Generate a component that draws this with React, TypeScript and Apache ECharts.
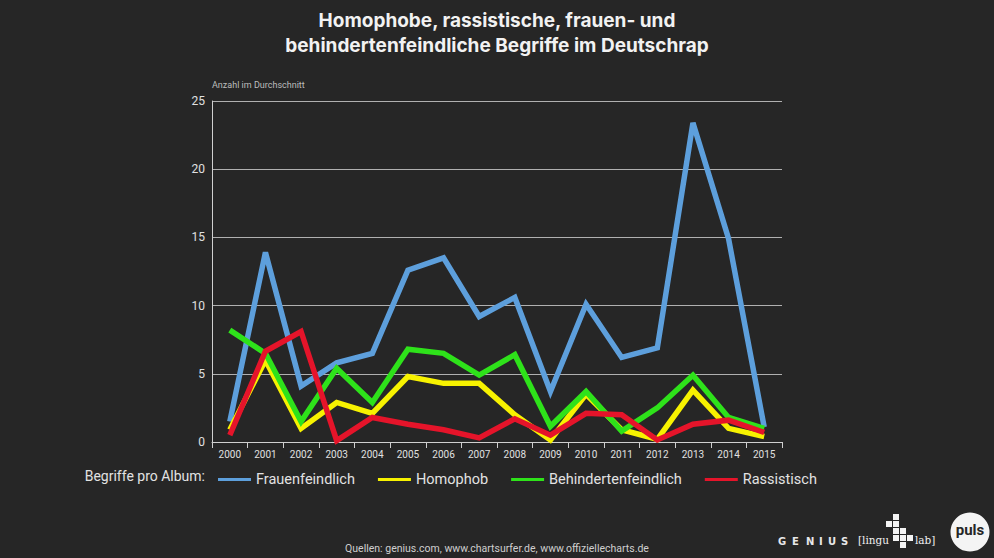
import React, { useEffect, useRef } from "react";
import * as echarts from "echarts";

const years = ["2000","2001","2002","2003","2004","2005","2006","2007","2008","2009","2010","2011","2012","2013","2014","2015"];
const frauenfeindlich = [1.5, 13.9, 4.1, 5.8, 6.5, 12.6, 13.5, 9.2, 10.6, 3.7, 10.1, 6.2, 6.9, 23.4, 14.9, 1.1];
const homophob = [0.9, 6.0, 1.0, 2.9, 2.1, 4.8, 4.3, 4.3, 2.0, 0.15, 3.5, 0.9, 0.2, 3.8, 1.0, 0.4];
const behindertenfeindlich = [8.2, 6.5, 1.5, 5.4, 2.9, 6.8, 6.5, 4.9, 6.4, 1.15, 3.7, 0.8, 2.5, 4.9, 1.8, 1.0];
const rassistisch = [0.5, 6.65, 8.1, 0.1, 1.8, 1.3, 0.9, 0.3, 1.7, 0.5, 2.1, 2.0, 0.15, 1.3, 1.6, 0.7];
const yTicks = [0, 5, 10, 15, 20, 25];

const seriesDefs = [
  { name: "Frauenfeindlich", data: frauenfeindlich, color: "#5d9fdc" },
  { name: "Homophob", data: homophob, color: "#f7f200" },
  { name: "Behindertenfeindlich", data: behindertenfeindlich, color: "#2ee21a" },
  { name: "Rassistisch", data: rassistisch, color: "#e5142a" },
];

const lingCells = [
  [1, 0], [0, 1], [1, 1], [1, 2], [2, 2], [1, 3], [2, 3], [3, 3], [2, 4],
];
const geniusLetters = ["G", "E", "N", "I", "U", "S"];
const geniusX = [778, 792, 806, 819, 828, 841];

export default function App() {
  const ref = useRef<HTMLDivElement>(null);
  useEffect(() => {
    const chart = echarts.init(ref.current!, null, { renderer: "svg" });
    const graphics: any[] = [
      {
        type: "text", left: 212, top: 80,
        style: { text: "Anzahl im Durchschnitt", fill: "#bdbdbd", font: "9px Roboto" },
      },
      {
        type: "text", x: 205, y: 476,
        style: { text: "Begriffe pro Album:", fill: "#e2e2e2", font: "14px Roboto", align: "right", verticalAlign: "middle" },
      },
      {
        type: "text", x: 497, y: 548,
        style: { text: "Quellen: genius.com, www.chartsurfer.de, www.offiziellecharts.de", fill: "#cfcfcf", font: "10.5px Roboto", align: "center", verticalAlign: "middle" },
      },
      ...geniusLetters.map((l, i) => ({
        type: "text", x: geniusX[i], y: 541,
        style: { text: l, fill: "#e8e8e8", font: "bold 10px 'DejaVu Sans'", verticalAlign: "middle" },
      })),
      {
        type: "text", x: 858, y: 540,
        style: { text: "[lingu", fill: "#f0f0f0", font: "10.5px 'DejaVu Serif'", verticalAlign: "middle" },
      },
      {
        type: "text", x: 915, y: 540,
        style: { text: "lab]", fill: "#f0f0f0", font: "10.5px 'DejaVu Serif'", verticalAlign: "middle" },
      },
      ...lingCells.map(([c, r]) => ({
        type: "rect", shape: { x: 886 + c * 7, y: 514 + r * 7, width: 6, height: 6 },
        style: { fill: "#f4f4f4" },
      })),
      {
        type: "circle", shape: { cx: 970, cy: 532, r: 19.5 }, style: { fill: "#f4f4f4" },
      },
      {
        type: "text", x: 970, y: 530,
        style: { text: "puls", fill: "#262626", font: "bold 15px Roboto", align: "center", verticalAlign: "middle" },
      },
    ];

    chart.setOption({
      animation: false,
      backgroundColor: "#262626",
      title: {
        text: "Homophobe, rassistische, frauen- und\nbehindertenfeindliche Begriffe im Deutschrap",
        left: "center",
        top: 3,
        textStyle: { color: "#f2f2f2", fontSize: 19, lineHeight: 25, fontFamily: "Inter", fontWeight: "bold" },
      },
      grid: { left: 212, right: 212, top: 101, bottom: 116 },
      legend: {
        left: 213,
        top: 467,
        icon: "rect",
        itemWidth: 33,
        itemHeight: 3,
        itemGap: 23,
        textStyle: { color: "#e2e2e2", fontSize: 14.5, fontFamily: "Roboto" },
        data: seriesDefs.map((s) => s.name),
      },
      xAxis: {
        type: "category",
        data: years,
        boundaryGap: true,
        axisLine: { show: true, lineStyle: { color: "#d0d0d0", width: 1 } },
        axisTick: { show: true, length: 6, lineStyle: { color: "#d0d0d0" } },
        axisLabel: { color: "#e0e0e0", fontSize: 10, fontFamily: "Roboto", margin: 7 },
      },
      yAxis: {
        type: "value",
        min: yTicks[0],
        max: yTicks[yTicks.length - 1],
        interval: 5,
        axisLine: { show: true, lineStyle: { color: "#d0d0d0", width: 1 } },
        axisTick: { show: false },
        axisLabel: { color: "#e0e0e0", fontSize: 12, fontFamily: "Roboto", margin: 7 },
        splitLine: { show: true, lineStyle: { color: "#b0b0b0", width: 1 } },
      },
      series: seriesDefs.map((s) => ({
        name: s.name,
        type: "line",
        data: s.data,
        symbol: "none",
        color: s.color,
        lineStyle: { color: s.color, width: 5.5, join: "miter" },
      })),
      graphic: graphics,
    });
    return () => chart.dispose();
  }, []);
  return (
    <div
      ref={ref}
      style={{ position: "fixed", left: 0, top: 0, width: 994, height: 558 }}
    />
  );
}
